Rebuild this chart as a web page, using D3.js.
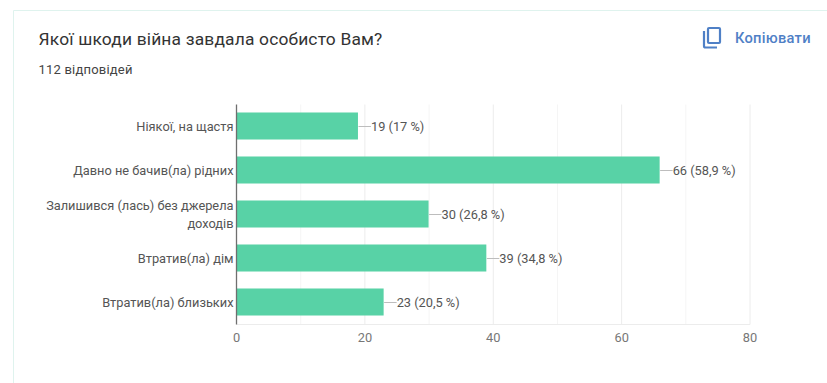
<!DOCTYPE html>
<html lang="uk">
<head>
<meta charset="utf-8">
<script src="https://cdn.jsdelivr.net/npm/d3@7"></script>
<style>
  html, body { margin: 0; padding: 0; background: #fff; }
  svg { display: block; }
  text { font-family: Roboto, "Noto Sans", sans-serif; }
</style>
</head>
<body>
<svg id="chart" width="827" height="383"></svg>
<script>
// Survey answers, in display order
const categories = [
  ["Ніякої, на щастя"],
  ["Давно не бачив(ла) рідних"],
  ["Залишився (лась) без джерела", "доходів"],
  ["Втратив(ла) дім"],
  ["Втратив(ла) близьких"]
];
const counts = [19, 66, 30, 39, 23];
const shares = ["17", "58,9", "26,8", "34,8", "20,5"];
const majorTicks = [0, 20, 40, 60, 80];
const minorTicks = [10, 30, 50, 70];

const titleText = "Якої шкоди війна завдала особисто Вам?";
const subtitleText = "112 відповідей";
const copyText = "Копіювати";

const svg = d3.select("#chart");

// Card outline: only the top and left edges fall inside the frame
svg.append("path")
  .attr("d", "M13.5,383V10.5H827")
  .attr("fill", "none")
  .attr("stroke", "#dff3ee")
  .attr("stroke-width", 1);

svg.append("text").attr("x", 38.5).attr("y", 44.5)
  .attr("font-size", 17.4).attr("fill", "#333").attr("letter-spacing", 0.17)
  .text(titleText);
svg.append("text").attr("x", 38.5).attr("y", 73.5)
  .attr("font-size", 13).attr("fill", "#444").attr("letter-spacing", 0.2)
  .text(subtitleText);

// Copy button
const copyBlue = "#4f80c6";
const icon = svg.append("g").attr("fill", "none").attr("stroke", copyBlue).attr("stroke-width", 2.2);
icon.append("rect").attr("x", 708).attr("y", 28).attr("width", 12).attr("height", 15).attr("rx", 1);
icon.append("path").attr("d", "M704,31V46a1.5,1.5 0 0 0 1.5,1.5H717");
svg.append("text").attr("x", 735).attr("y", 42.5)
  .attr("font-size", 14.7).attr("font-weight", 500).attr("fill", copyBlue)
  .attr("letter-spacing", 0.25).text(copyText);

// Scales
const x = d3.scaleLinear().domain([0, 80]).range([236.5, 750]);
const y = d3.scaleBand().domain(d3.range(categories.length))
  .range([104.5, 324.5]).paddingInner(0.386).paddingOuter(0.193);

// Gridlines
svg.append("g").selectAll("line")
  .data(majorTicks.slice(1).concat(minorTicks))
  .join("line")
  .attr("x1", d => x(d)).attr("x2", d => x(d))
  .attr("y1", 104.5).attr("y2", 324.5)
  .attr("stroke", d => majorTicks.includes(d) ? "#ececec" : "#f5f5f5");
svg.append("line")
  .attr("x1", x(0)).attr("x2", x(80))
  .attr("y1", 324.5).attr("y2", 324.5)
  .attr("stroke", "#ececec");

// Bars
svg.append("g").selectAll("rect")
  .data(counts)
  .join("rect")
  .attr("x", x(0))
  .attr("y", (d, i) => y(i) - 0.5)
  .attr("width", d => x(d) - x(0) - 0.5)
  .attr("height", y.bandwidth())
  .attr("fill", "#58d2a6");

// Baseline over the bars
svg.append("line")
  .attr("x1", x(0)).attr("x2", x(0))
  .attr("y1", 104.5).attr("y2", 324.5)
  .attr("stroke", "#6f6f6f").attr("stroke-width", 1.3);

// Category labels, right-aligned against the baseline
const labels = svg.append("g").selectAll("text")
  .data(categories)
  .join("text")
  .attr("text-anchor", "end")
  .attr("font-size", 12.8)
  .attr("fill", "#555")
  .attr("y", (d, i) => y(i) + y.bandwidth() / 2 + 4);
labels.selectAll("tspan")
  .data(d => d.map((line, j) => ({ line, j, n: d.length })))
  .join("tspan")
  .attr("x", 233.5)
  .attr("dy", d => d.j === 0 ? (d.n > 1 ? -8.5 : 0) : 18)
  .text(d => d.line);

// Value leaders and labels
const leaderLength = 12.5;
const values = svg.append("g").selectAll("g")
  .data(counts)
  .join("g")
  .attr("transform", (d, i) => `translate(${x(d)},${y(i) + y.bandwidth() / 2})`);
values.append("line")
  .attr("x2", leaderLength)
  .attr("stroke", "#bdbdbd");
values.append("text")
  .attr("x", leaderLength)
  .attr("y", 4)
  .attr("font-size", 12.8)
  .attr("fill", "#555")
  .text((d, i) => `${d} (${shares[i]} %)`);

// Value axis labels
const xAxis = d3.axisBottom(x).tickValues(majorTicks).tickSize(0).tickPadding(0);
const axisG = svg.append("g")
  .attr("transform", "translate(-0.5,333)")
  .call(xAxis);
axisG.select(".domain").remove();
axisG.selectAll("text")
  .attr("font-family", 'Roboto, "Noto Sans", sans-serif')
  .attr("font-size", 12.8)
  .attr("fill", "#777");
</script>
</body>
</html>
